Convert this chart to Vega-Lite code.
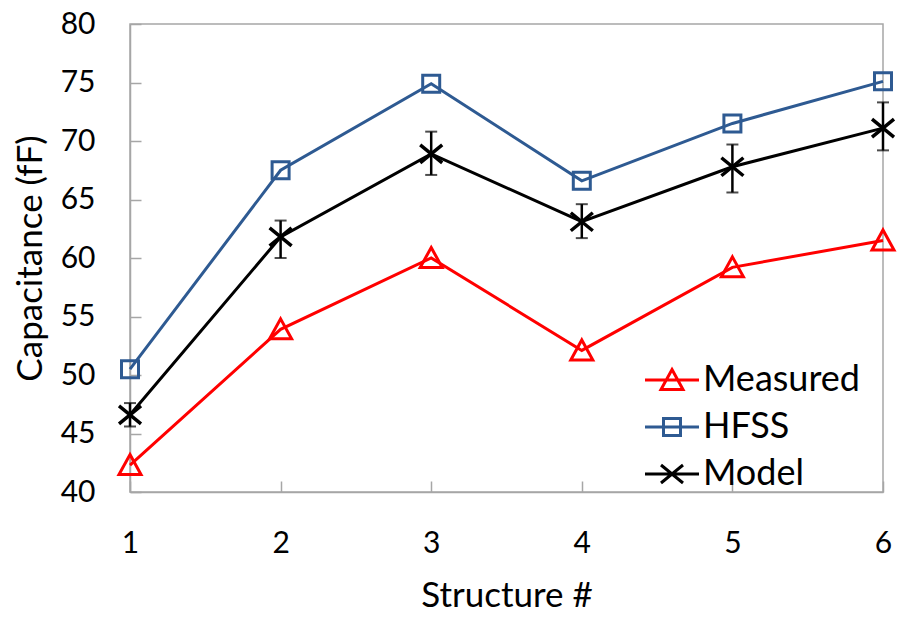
{
  "$schema": "https://vega.github.io/schema/vega-lite/v6.json",
  "width": 753,
  "height": 468,
  "autosize": {"type": "none"},
  "padding": {"left": 130, "top": 24, "right": 16, "bottom": 125},
  "background": "white",
  "config": {
    "font": "Lato",
    "view": {"stroke": "#A6A6A6", "strokeWidth": 1.5},
    "axis": {"grid": false, "domainColor": "#A6A6A6", "domainWidth": 1.5, "tickColor": "#A6A6A6", "tickWidth": 1.5, "labelColor": "#000000", "titleColor": "#000000", "labelFont": "Lato", "titleFont": "Lato", "titleFontWeight": "normal", "labelFlush": false}
  },
  "data": {
    "values": [
      {"series": "Measured", "x": 1, "y": 42.3},
      {"series": "Measured", "x": 2, "y": 53.9},
      {"series": "Measured", "x": 3, "y": 60.0},
      {"series": "Measured", "x": 4, "y": 52.1},
      {"series": "Measured", "x": 5, "y": 59.2},
      {"series": "Measured", "x": 6, "y": 61.5},
      {"series": "HFSS", "x": 1, "y": 50.5},
      {"series": "HFSS", "x": 2, "y": 67.5},
      {"series": "HFSS", "x": 3, "y": 74.9},
      {"series": "HFSS", "x": 4, "y": 66.6},
      {"series": "HFSS", "x": 5, "y": 71.5},
      {"series": "HFSS", "x": 6, "y": 75.1},
      {"series": "Model", "x": 1, "y": 46.6, "lo": 45.6, "hi": 47.6},
      {"series": "Model", "x": 2, "y": 61.8, "lo": 60.0, "hi": 63.2},
      {"series": "Model", "x": 3, "y": 68.9, "lo": 67.1, "hi": 70.8},
      {"series": "Model", "x": 4, "y": 63.1, "lo": 61.7, "hi": 64.6},
      {"series": "Model", "x": 5, "y": 67.8, "lo": 65.6, "hi": 69.7},
      {"series": "Model", "x": 6, "y": 71.1, "lo": 69.2, "hi": 73.3}
    ]
  },
  "encoding": {
    "x": {"field": "x", "type": "quantitative", "scale": {"domain": [1, 6], "nice": false, "zero": false},
      "axis": {"values": [1, 2, 3, 4, 5, 6], "title": "Structure #", "tickSize": -11, "labelPadding": 47, "labelFontSize": 30, "titleFontSize": 35, "titlePadding": 20}},
    "y": {"field": "y", "type": "quantitative", "scale": {"domain": [40, 80], "nice": false, "zero": false},
      "axis": {"values": [40, 45, 50, 55, 60, 65, 70, 75, 80], "title": "Capacitance (fF)", "tickSize": -11, "labelPadding": 46, "labelFontSize": 30, "titleFontSize": 35, "titlePadding": 12}}
  },
  "layer": [
    {
      "mark": {"type": "line", "strokeWidth": 3},
      "encoding": {
        "color": {"field": "series", "type": "nominal", "scale": {"domain": ["Measured", "HFSS", "Model"], "range": ["#FF0000", "#2E5A92", "#000000"]},
          "legend": {"title": null, "orient": "none", "legendX": 524, "legendY": 338, "padding": 0, "labelFontSize": 36, "labelColor": "#000000", "labelFont": "Lato", "symbolSize": 400, "symbolStrokeWidth": 3, "symbolFillColor": "transparent", "labelOffset": 13, "rowPadding": 11,
            "symbolType": {"expr": "datum.value === 'Measured' ? 'M-2.7,0L2.7,0M0,-1.05L1.1,0.95L-1.1,0.95Z' : datum.value === 'HFSS' ? 'M-2.7,0L2.7,0M-0.85,-0.85L0.85,-0.85L0.85,0.85L-0.85,0.85Z' : 'M-2.7,0L2.7,0M-1.1,-0.9L1.1,0.9M-1.1,0.9L1.1,-0.9'"}}}
      }
    },
    {
      "transform": [{"filter": "datum.series === 'Model'"}],
      "mark": {"type": "rule", "strokeWidth": 2.5, "color": "#000000"},
      "encoding": {"y": {"field": "lo", "type": "quantitative"}, "y2": {"field": "hi"}}
    },
    {
      "transform": [{"filter": "datum.series === 'Model'"}],
      "mark": {"type": "tick", "orient": "horizontal", "size": 12, "thickness": 2, "color": "#000000"},
      "encoding": {"y": {"field": "lo", "type": "quantitative"}}
    },
    {
      "transform": [{"filter": "datum.series === 'Model'"}],
      "mark": {"type": "tick", "orient": "horizontal", "size": 12, "thickness": 2, "color": "#000000"},
      "encoding": {"y": {"field": "hi", "type": "quantitative"}}
    },
    {
      "transform": [{"filter": "datum.series === 'Measured'"}],
      "mark": {"type": "point", "filled": false, "strokeWidth": 3, "size": 400, "opacity": 1, "color": "#FF0000", "shape": "M0,-1.05L1.1,0.95L-1.1,0.95Z"},
      "encoding": {}
    },
    {
      "transform": [{"filter": "datum.series === 'HFSS'"}],
      "mark": {"type": "point", "filled": false, "strokeWidth": 3, "size": 400, "opacity": 1, "color": "#2E5A92", "shape": "M-0.85,-0.85L0.85,-0.85L0.85,0.85L-0.85,0.85Z"},
      "encoding": {}
    },
    {
      "transform": [{"filter": "datum.series === 'Model'"}],
      "mark": {"type": "point", "filled": false, "strokeWidth": 3.5, "size": 400, "opacity": 1, "color": "#000000", "shape": "M-1.1,-0.9L1.1,0.9M-1.1,0.9L1.1,-0.9"},
      "encoding": {}
    }
  ]
}
